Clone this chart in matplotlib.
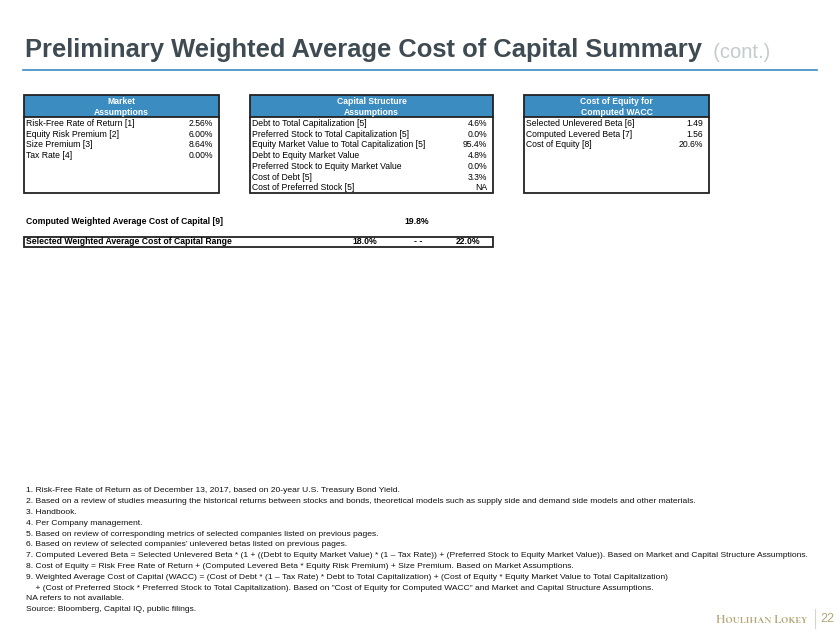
import matplotlib
matplotlib.use("Agg")
import matplotlib.pyplot as plt
from matplotlib.patches import Rectangle

# --- table data ---
market_labels = ["Risk-Free Rate of Return [1]", "Equity Risk Premium [2]",
                 "Size Premium [3]", "Tax Rate [4]"]
market_values = ["2.56%", "6.00%", "8.64%", "0.00%"]

capital_labels = ["Debt to Total Capitalization [5]",
                  "Preferred Stock to Total Capitalization [5]",
                  "Equity Market Value to Total Capitalization [5]",
                  "Debt to Equity Market Value",
                  "Preferred Stock to Equity Market Value",
                  "Cost of Debt [5]",
                  "Cost of Preferred Stock [5]"]
capital_values = ["4.6%", "0.0%", "95.4%", "4.8%", "0.0%", "3.3%", "NA"]

equity_labels = ["Selected Unlevered Beta [6]", "Computed Levered Beta [7]",
                 "Cost of Equity [8]"]
equity_values = ["1.49", "1.56", "20.6%"]

computed_wacc = "19.8%"
wacc_low, wacc_high = "18.0%", "22.0%"

footnotes = [
    "1. Risk-Free Rate of Return as of December 13, 2017, based on 20-year U.S. Treasury Bond Yield.",
    "2. Based on a review of studies measuring the historical returns between stocks and bonds, theoretical models such as supply side and demand side models and other materials.",
    "3. Handbook.",
    "4. Per Company management.",
    "5. Based on review of corresponding metrics of selected companies listed on previous pages.",
    "6. Based on review of selected companies\u2019 unlevered betas listed on previous pages.",
    "7. Computed Levered Beta = Selected Unlevered Beta * (1 + ((Debt to Equity Market Value) * (1 \u2013 Tax Rate)) + (Preferred Stock to Equity Market Value)). Based on Market and Capital Structure Assumptions.",
    "8. Cost of Equity = Risk Free Rate of Return + (Computed Levered Beta * Equity Risk Premium) + Size Premium. Based on Market Assumptions.",
    "9. Weighted Average Cost of Capital (WACC) = (Cost of Debt * (1 \u2013 Tax Rate) * Debt to Total Capitalization) + (Cost of Equity * Equity Market Value to Total Capitalization)",
    "    + (Cost of Preferred Stock * Preferred Stock to Total Capitalization). Based on \"Cost of Equity for Computed WACC\" and Market and Capital Structure Assumptions.",
    "NA refers to not available.",
    "Source: Bloomberg, Capital IQ, public filings.",
]

plt.rcParams['font.family'] = ['Liberation Sans', 'DejaVu Sans']

BLUE = "#3a8cc1"
TITLE = "#3f4b52"
GOLD = "#b3a677"

fig = plt.figure(figsize=(8.4, 6.3), dpi=100)
ax = fig.add_axes([0, 0, 1, 1])
ax.set_xlim(0, 840)
ax.set_ylim(630, 0)
ax.axis("off")

# title
t = ax.text(25, 56.5, "Preliminary Weighted Average Cost of Capital Summary",
            fontsize=18.4, fontweight="bold", color=TITLE, va="baseline")
ax.annotate("  (cont.)", xy=(1, 0), xycoords=t, va="bottom", fontsize=14.5,
            color="#c3cbcf")
ax.plot([23, 817], [70, 70], color=BLUE, lw=1.2)

FS = 6.2
row0, dy = 123.3, 10.75


def draw_table(x0, x1, header, labels, values, bottom):
    ax.add_patch(Rectangle((x0, 95), x1 - x0, 22, facecolor=BLUE, edgecolor="none"))
    ax.add_patch(Rectangle((x0, 95), x1 - x0, bottom - 95, facecolor="none",
                           edgecolor="#222222", lw=1.3))
    ax.plot([x0, x1], [117, 117], color="#222222", lw=1.3)
    cx = (x0 + x1) / 2
    for k, h in enumerate(header):
        ax.text(cx, 101.7 + k * 10.6, h, ha="center", va="center", fontsize=FS,
                fontweight="bold", color="white")
    for i, (lab, val) in enumerate(zip(labels, values)):
        y = row0 + i * dy
        ax.text(x0 + 2, y, lab, va="center", fontsize=FS, color="black")
        ax.text(x1 - 6, y, val, va="center", ha="right", fontsize=FS, color="black")


draw_table(24, 219, ["Market", "Assumptions"], market_labels, market_values, 193)
draw_table(250, 493, ["Capital Structure", "Assumptions"], capital_labels, capital_values, 193)
draw_table(524, 709, ["Cost of Equity for", "Computed WACC"], equity_labels, equity_values, 193)

# computed WACC
ax.text(26, 221, "Computed Weighted Average Cost of Capital [9]", va="center",
        fontsize=FS, fontweight="bold")
ax.text(429, 221, computed_wacc, va="center", ha="right", fontsize=FS, fontweight="bold")

# selected range
ax.add_patch(Rectangle((24, 237), 469, 10, facecolor="none", edgecolor="#222222", lw=1.3))
ax.text(26, 242, "Selected Weighted Average Cost of Capital Range", va="center",
        fontsize=FS, fontweight="bold")
ax.text(377, 242, wacc_low, va="center", ha="right", fontsize=FS, fontweight="bold")
ax.text(418, 242, "- -", va="center", ha="center", fontsize=FS, fontweight="bold")
ax.text(480, 242, wacc_high, va="center", ha="right", fontsize=FS, fontweight="bold")

# footnotes
for i, line in enumerate(footnotes):
    ax.text(26, 491 + i * 10.8, line, va="center", fontsize=6.1, color="#111111")

# logo & page number
ax.text(807, 619, "Houlihan Lokey", ha="right", va="center", fontsize=9,
        fontweight="bold", color=GOLD, family=["Cormorant SC", "Liberation Serif"])
ax.plot([815, 815], [609, 628], color="#d8d4c6", lw=0.8)
ax.text(827, 619, "22", ha="center", va="center", fontsize=9, color=GOLD)

fig.savefig("out.png", dpi=100)
